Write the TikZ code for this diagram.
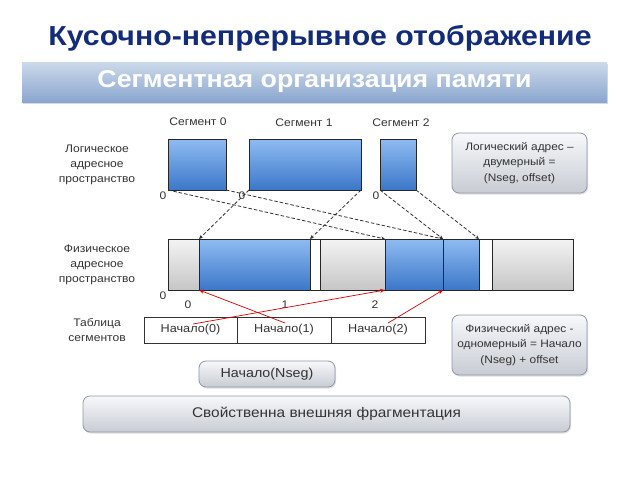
\documentclass[tikz,border=0pt]{standalone}
\usepackage{fontspec}
\setmainfont{Liberation Sans}[FakeStretch=1.1]
\usetikzlibrary{shadows,arrows.meta}
\definecolor{titleblue}{HTML}{122B7A}
\definecolor{bantop}{HTML}{CCD9EA}
\definecolor{banbot}{HTML}{8AA6CE}
\definecolor{bluetop}{HTML}{8FBBF2}
\definecolor{bluebot}{HTML}{3B77C8}
\definecolor{greytop}{HTML}{F3F3F3}
\definecolor{greybot}{HTML}{C6C6C6}
\definecolor{btntop}{HTML}{F7F8FA}
\definecolor{btnbot}{HTML}{C8CCD3}
\definecolor{btnborder}{HTML}{8C98AC}
\definecolor{lbl}{HTML}{333333}
\tikzset{
  blk/.style={draw=black!85, line width=0.9pt, inner sep=0pt, outer sep=0pt, anchor=north west},
  blueblk/.style={blk, top color=bluetop, bottom color=bluebot},
  greyblk/.style={blk, top color=greytop, bottom color=greybot},
  whiteblk/.style={blk, fill=white},
  btn/.style={draw=btnborder, line width=0.8pt, rounded corners=7pt, top color=btntop, bottom color=btnbot, inner sep=0pt, outer sep=0pt, anchor=north west, drop shadow={shadow xshift=1pt, shadow yshift=-1.5pt, opacity=0.25}},
  lab/.style={text=lbl, font=\fontsize{11}{15}\selectfont, align=center, inner sep=0pt},
  zero/.style={text=lbl, font=\fontsize{11}{13}\selectfont, inner sep=0pt},
  dasharrow/.style={dash pattern=on 3.5pt off 2pt, draw=black!80, line width=0.8pt, -{Stealth[length=4pt,width=3.5pt]}},
  redarrow/.style={draw=red!85!black, line width=0.7pt, -{Stealth[length=5pt,width=4pt,open]}},
  cell/.style={draw=black!80, line width=0.7pt, inner sep=0pt, outer sep=0pt, anchor=north west, minimum height=26pt, font=\fontsize{11.5}{14}\selectfont, text=lbl}
}
\begin{document}
\begin{tikzpicture}[x=1pt,y=-1pt]
\useasboundingbox (0,0) rectangle (640,480);
% title
\node[font=\bfseries\fontsize{27.5}{30}\selectfont, text=titleblue, inner sep=0pt] (title) at (320,38) {Кусочно-непрерывное отображение};
% banner
\node[inner sep=0pt, outer sep=0pt, anchor=north west, minimum width=585pt, minimum height=40pt, top color=bantop, bottom color=banbot, drop shadow={shadow xshift=1pt, shadow yshift=-2pt, opacity=0.3}] (banner) at (22,62) {};
\node[font=\bfseries\fontsize{24.3}{26}\selectfont, text=white, inner sep=0pt] (bantext) at (banner.center) {Сегментная организация памяти};
% segment labels
\node[lab] (l0) at (198,122) {Сегмент 0};
\node[lab] (l1) at (304,123) {Сегмент 1};
\node[lab] (l2) at (401,123) {Сегмент 2};
% logical blocks
\node[blueblk, minimum width=58pt, minimum height=51pt] (s0) at (168,139) {};
\node[blueblk, minimum width=112pt, minimum height=51pt] (s1) at (249,139) {};
\node[blueblk, minimum width=36pt, minimum height=51pt] (s2) at (380,139) {};
% left labels
\node[lab] (la) at (97,165) {Логическое\\адресное\\пространство};
\node[lab] (lb) at (97,265) {Физическое\\адресное\\пространство};
\node[lab] (lc) at (97,330) {Таблица\\сегментов};
% zeros
\node[zero] (z0) at (163,196) {0};
\node[zero] (z1) at (242,196) {0};
\node[zero] (z2) at (376,196) {0};
% physical bar
\node[greyblk, minimum width=31pt, minimum height=51pt] (p0) at (168,239) {};
\node[blueblk, minimum width=111pt, minimum height=51pt] (p1) at (199,239) {};
\node[whiteblk, minimum width=10pt, minimum height=51pt] (p2) at (310,239) {};
\node[greyblk, minimum width=65pt, minimum height=51pt] (p3) at (320,239) {};
\node[blueblk, minimum width=58pt, minimum height=51pt] (p4) at (385,239) {};
\node[blueblk, minimum width=36pt, minimum height=51pt] (p5) at (443,239) {};
\node[whiteblk, minimum width=13pt, minimum height=51pt] (p6) at (479,239) {};
\node[greyblk, minimum width=81pt, minimum height=51pt] (p7) at (492,239) {};
\node[zero] (z3) at (163,296) {0};
\node[zero] (n0) at (188,305) {0};
\node[zero] (n1) at (285,305) {1};
\node[zero] (n2) at (375,305) {2};
% dashed mapping
\draw[dasharrow] (s0.south west) -- (p4.north west);
\draw[dasharrow] (s0.south east) -- (p4.north east);
\draw[dasharrow] (s1.south west) -- (p1.north west);
\draw[dasharrow] (s1.south east) -- (p1.north east);
\draw[dasharrow] (s2.south west) -- (p5.north west);
\draw[dasharrow] (s2.south east) -- (p5.north east);
% table
\node[cell, minimum width=93pt] (t0) at (144,317) {Начало(0)};
\node[cell, minimum width=94pt] (t1) at (237,317) {Начало(1)};
\node[cell, minimum width=94pt] (t2) at (331,317) {Начало(2)};
\coordinate (r0) at (193,324);
\coordinate (r1) at (285,323);
\coordinate (r2) at (388,323);
\draw[redarrow] (r0) -- (p4.south west);
\draw[redarrow] (r1) -- (p1.south west);
\draw[redarrow] (r2) -- (p5.south west);
% right boxes
\node[btn, minimum width=135pt, minimum height=60pt] (b1) at (452,133) {};
\node[lab, font=\fontsize{10.8}{15.5}\selectfont] (b1t) at (b1.center) {Логический адрес –\\двумерный =\\(Nseg, offset)};
\node[btn, minimum width=135pt, minimum height=60pt] (b2) at (452,315) {};
\node[lab, font=\fontsize{10.8}{15.5}\selectfont] (b2t) at (b2.center) {Физический адрес -\\одномерный = Начало\\(Nseg) + offset};
% Nseg box
\node[btn, minimum width=136pt, minimum height=26pt] (b3) at (199,361) {};
\node[lab, font=\fontsize{13}{15}\selectfont] (b3t) at (b3.center) {Начало(Nseg)};
% bottom box
\node[btn, minimum width=487pt, minimum height=36pt] (b4) at (83,396) {};
\node[lab, font=\fontsize{14}{16}\selectfont] (b4t) at (b4.center) {Свойственна внешняя фрагментация};
\end{tikzpicture}
\end{document}
